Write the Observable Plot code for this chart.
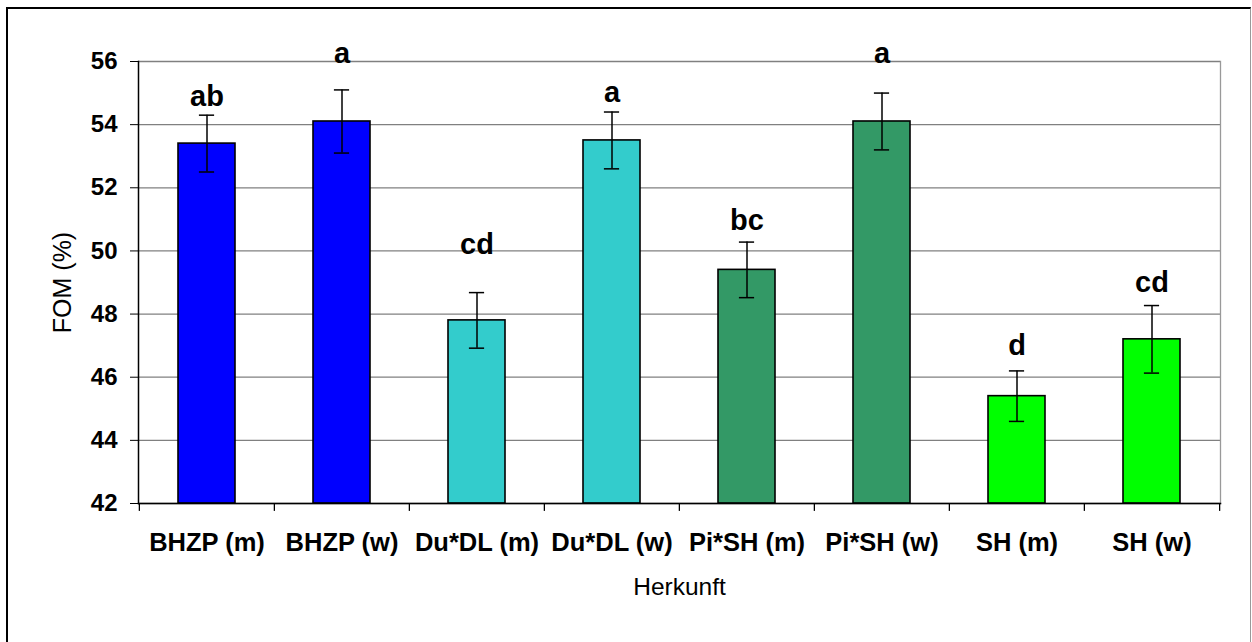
<!DOCTYPE html>
<html>
<head>
<meta charset="utf-8">
<script src="https://cdn.jsdelivr.net/npm/d3@7"></script>
<script src="https://cdn.jsdelivr.net/npm/@observablehq/plot@0.6"></script>
<style>
  html, body { margin: 0; padding: 0; background: #fff; }
  #wrap { position: relative; width: 1252px; height: 642px; overflow: hidden; }
  #border { position: absolute; left: 6px; top: 7px; width: 1245px; height: 700px;
            border-left: 2px solid #000; border-top: 2px solid #000; border-right: 1px solid #999; box-sizing: border-box; }
  #chart { position: absolute; left: 0; top: 0; }
</style>
</head>
<body>
<div id="wrap"><div id="border"></div><div id="chart"></div></div>
<script>
const categories = ["BHZP (m)", "BHZP (w)", "Du*DL (m)", "Du*DL (w)", "Pi*SH (m)", "Pi*SH (w)", "SH (m)", "SH (w)"];
const values = [53.4, 54.1, 47.8, 53.5, 49.4, 54.1, 45.4, 47.2];
const errors = [0.9, 1.0, 0.88, 0.9, 0.88, 0.9, 0.8, 1.07];
const letters = ["ab", "a", "cd", "a", "bc", "a", "d", "cd"];
const letterY = [54.9, 56.25, 50.2, 55.0, 50.95, 56.25, 47.0, 49.0];
const colors = ["#0000FF", "#0000FF", "#33CCCC", "#33CCCC", "#339966", "#339966", "#00FF00", "#00FF00"];
const yTicks = [42, 44, 46, 48, 50, 52, 54, 56];

const data = categories.map((c, i) => ({c, v: values[i], e: errors[i], l: letters[i], ly: letterY[i], col: colors[i]}));

const W = 1252, H = 642, ML = 138, MR = 32, MT = 61, MB = 139;
const PAD = 0.58;
const step = (W - ML - MR) / categories.length;
const bw = step * (1 - PAD);
const capInset = (bw - 15) / 2;
const font = "Liberation Sans, Arial, sans-serif";

const chart = Plot.plot({
  width: W, height: H,
  marginLeft: ML, marginRight: MR, marginTop: MT, marginBottom: MB,
  style: {fontFamily: font, background: "transparent", overflow: "visible"},
  x: {domain: categories, paddingInner: PAD, paddingOuter: PAD / 2, align: 0.5, axis: null},
  y: {domain: [42, 56], axis: null},
  marks: [
    Plot.ruleY(yTicks, {y: d => d, stroke: "#808080", strokeWidth: 1.3}),
    Plot.frame({anchor: "right", stroke: "#999", strokeWidth: 1.3}),
    Plot.barY(data, {x: "c", y1: 42, y2: "v", fill: "col", stroke: "#000", strokeWidth: 1.6}),
    Plot.ruleX(data, {x: "c", y1: d => d.v - d.e, y2: d => d.v + d.e, stroke: "#000", strokeWidth: 1.5}),
    Plot.tickY(data, {x: "c", y: d => d.v - d.e, stroke: "#000", strokeWidth: 1.5, insetLeft: capInset, insetRight: capInset}),
    Plot.tickY(data, {x: "c", y: d => d.v + d.e, stroke: "#000", strokeWidth: 1.5, insetLeft: capInset, insetRight: capInset}),
    Plot.text(data, {x: "c", y: "ly", text: "l", fontSize: 29, fontWeight: "bold", fill: "#000"}),
    Plot.frame({anchor: "left", stroke: "#000", strokeWidth: 1.5}),
    Plot.frame({anchor: "bottom", stroke: "#000", strokeWidth: 1.5}),
    Plot.axisY({ticks: yTicks, tickSize: 8, tickPadding: 13, fontSize: 24, fontWeight: "bold", label: null, tickFormat: d => String(d)}),
    Plot.axisX({tickSize: 0, tickPadding: 29, fontSize: 25.5, fontWeight: "bold", label: null}),
    Plot.ruleX(categories, {x: d => d, dx: -step / 2, y1: 42, y2: 41.75, stroke: "#000", strokeWidth: 1.3}),
    Plot.ruleX(categories.slice(-1), {x: d => d, dx: step / 2, y1: 42, y2: 41.75, stroke: "#000", strokeWidth: 1.3}),
    Plot.text(["FOM (%)"], {frameAnchor: "left", dx: -76, rotate: -90, textAnchor: "middle", lineAnchor: "middle", fontSize: 25, fill: "#000"}),
    Plot.text(["Herkunft"], {frameAnchor: "bottom", dy: 84, textAnchor: "middle", lineAnchor: "middle", fontSize: 24.5, fill: "#000"})
  ]
});
document.getElementById("chart").appendChild(chart);
</script>
</body>
</html>
